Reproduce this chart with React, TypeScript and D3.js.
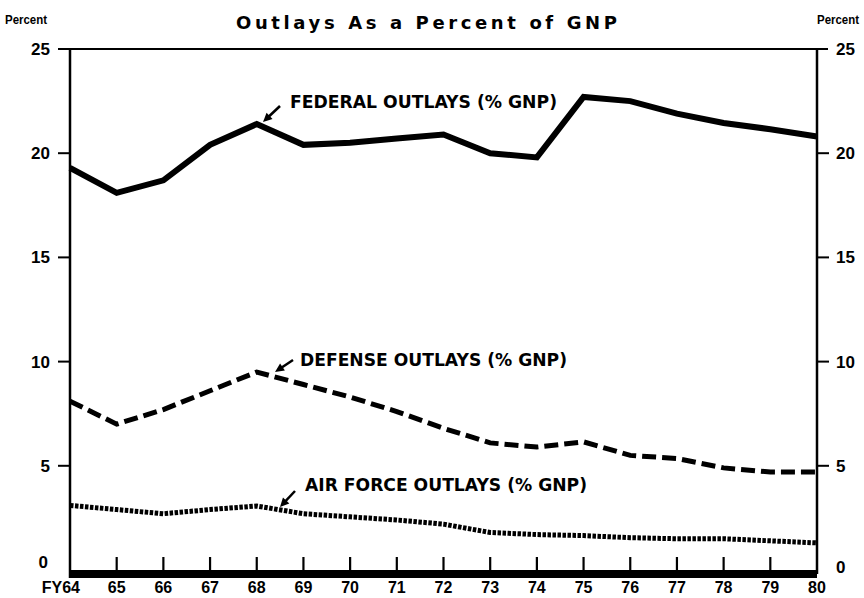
import React from "react";
import * as d3 from "d3";

const years = [64, 65, 66, 67, 68, 69, 70, 71, 72, 73, 74, 75, 76, 77, 78, 79, 80];
const yearLabels = ["FY64", "65", "66", "67", "68", "69", "70", "71", "72", "73", "74", "75", "76", "77", "78", "79", "80"];
const federal = [19.3, 18.1, 18.7, 20.4, 21.4, 20.4, 20.5, 20.7, 20.9, 20.0, 19.8, 22.7, 22.5, 21.9, 21.45, 21.15, 20.8];
const defense = [8.1, 7.0, 7.7, 8.6, 9.5, 8.9, 8.3, 7.6, 6.8, 6.1, 5.9, 6.15, 5.5, 5.35, 4.9, 4.7, 4.7];
const airForce = [3.1, 2.9, 2.7, 2.9, 3.07, 2.7, 2.55, 2.4, 2.2, 1.8, 1.7, 1.65, 1.55, 1.5, 1.5, 1.4, 1.3];
const yTicks = [0, 5, 10, 15, 20, 25];

const W = 864;
const H = 598;
const LEFT = 70;
const RIGHT = 817;
const TOP = 49;
const BOTTOM = 570;

export default function App() {
  const x = d3.scaleLinear().domain([64, 80]).range([LEFT, RIGHT]);
  const y = d3.scaleLinear().domain([0, 25]).range([BOTTOM, TOP]);
  const line = d3
    .line<number>()
    .x((_, i) => x(years[i]))
    .y((d) => y(d));

  const numFont = "'Liberation Sans', Arial, sans-serif";
  const labelFont = "'DejaVu Sans', 'Liberation Sans', sans-serif";

  const arrow = (x1: number, y1: number, x2: number, y2: number) => {
    const ang = Math.atan2(y2 - y1, x2 - x1);
    const L = 10;
    const s = 0.45;
    const p1 = [x2 - L * Math.cos(ang - s), y2 - L * Math.sin(ang - s)];
    const p2 = [x2 - L * Math.cos(ang + s), y2 - L * Math.sin(ang + s)];
    return (
      <g>
        <line x1={x1} y1={y1} x2={x2 - 4 * Math.cos(ang)} y2={y2 - 4 * Math.sin(ang)} stroke="#000" strokeWidth={2.5} />
        <path d={`M${x2},${y2}L${p1[0]},${p1[1]}L${p2[0]},${p2[1]}Z`} fill="#000" />
      </g>
    );
  };

  return (
    <div style={{ position: "absolute", left: 0, top: 0, width: W, height: H, background: "#fff" }}>
      <svg width={W} height={H} style={{ display: "block" }}>
        <rect width={W} height={H} fill="#fff" />
        {/* Title */}
        <text x={236} y={29} fontFamily={labelFont} fontWeight={700} fontSize={18} textLength={381} lengthAdjust="spacing" fill="#000">
          Outlays As a Percent of GNP
        </text>
        <text x={5} y={24} fontFamily={numFont} fontWeight={700} fontSize={13} textLength={42} lengthAdjust="spacingAndGlyphs">
          Percent
        </text>
        <text x={817} y={24} fontFamily={numFont} fontWeight={700} fontSize={13} textLength={42} lengthAdjust="spacingAndGlyphs">
          Percent
        </text>

        {/* Frame */}
        <line x1={LEFT - 12} x2={RIGHT + 11} y1={TOP} y2={TOP} stroke="#000" strokeWidth={2} />
        <line x1={LEFT} x2={LEFT} y1={TOP} y2={BOTTOM + 8} stroke="#000" strokeWidth={2.5} />
        <line x1={RIGHT} x2={RIGHT} y1={TOP} y2={BOTTOM + 4} stroke="#000" strokeWidth={2.5} />
        <rect x={LEFT} y={BOTTOM} width={RIGHT - LEFT} height={8} fill="#000" />

        {/* Y ticks */}
        {yTicks.map((t) => (
          <g key={t}>
            {t > 0 && t < 25 && (
              <>
                <line x1={LEFT - 12} x2={LEFT} y1={y(t)} y2={y(t)} stroke="#000" strokeWidth={2} />
                <line x1={RIGHT} x2={RIGHT + 12} y1={y(t)} y2={y(t)} stroke="#000" strokeWidth={2} />
              </>
            )}
            <text
              x={t === 0 ? 48 : 50}
              y={t === 0 ? y(t) - 2 : y(t) + 6}
              textAnchor="end"
              fontFamily={numFont}
              fontWeight={700}
              fontSize={17}
            >
              {t}
            </text>
            <text x={836} y={t === 0 ? y(t) + 3 : y(t) + 6} fontFamily={numFont} fontWeight={700} fontSize={17}>
              {t}
            </text>
          </g>
        ))}

        {/* X ticks */}
        {years.map((yr, i) => (
          <g key={yr}>
            {i > 0 && i < years.length - 1 && (
              <line x1={x(yr)} x2={x(yr)} y1={BOTTOM - 13} y2={BOTTOM} stroke="#000" strokeWidth={2.2} />
            )}
            <text
              x={i === 0 ? x(yr) + 10 : x(yr)}
              y={593}
              textAnchor={i === 0 ? "end" : "middle"}
              fontFamily={numFont}
              fontWeight={700}
              fontSize={16}
            >
              {yearLabels[i]}
            </text>
          </g>
        ))}

        {/* Series */}
        <path d={line(federal) || ""} fill="none" stroke="#000" strokeWidth={6} strokeLinejoin="miter" />
        <path d={line(defense) || ""} fill="none" stroke="#000" strokeWidth={5} strokeDasharray="14,6" />
        <path d={line(airForce) || ""} fill="none" stroke="#000" strokeWidth={5} strokeDasharray="3.5,1.5" />

        {/* Labels */}
        <text x={290} y={108} fontFamily={labelFont} fontWeight={700} fontSize={18} textLength={267} lengthAdjust="spacingAndGlyphs">
          FEDERAL OUTLAYS (% GNP)
        </text>
        {arrow(280, 106, 263, 122)}
        <text x={300} y={366} fontFamily={labelFont} fontWeight={700} fontSize={18} textLength={267} lengthAdjust="spacingAndGlyphs">
          DEFENSE OUTLAYS (% GNP)
        </text>
        {arrow(293, 360, 275, 372)}
        <text x={305} y={491} fontFamily={labelFont} fontWeight={700} fontSize={18} textLength={282} lengthAdjust="spacingAndGlyphs">
          AIR FORCE OUTLAYS (% GNP)
        </text>
        {arrow(295, 491, 280, 507)}
      </svg>
    </div>
  );
}
